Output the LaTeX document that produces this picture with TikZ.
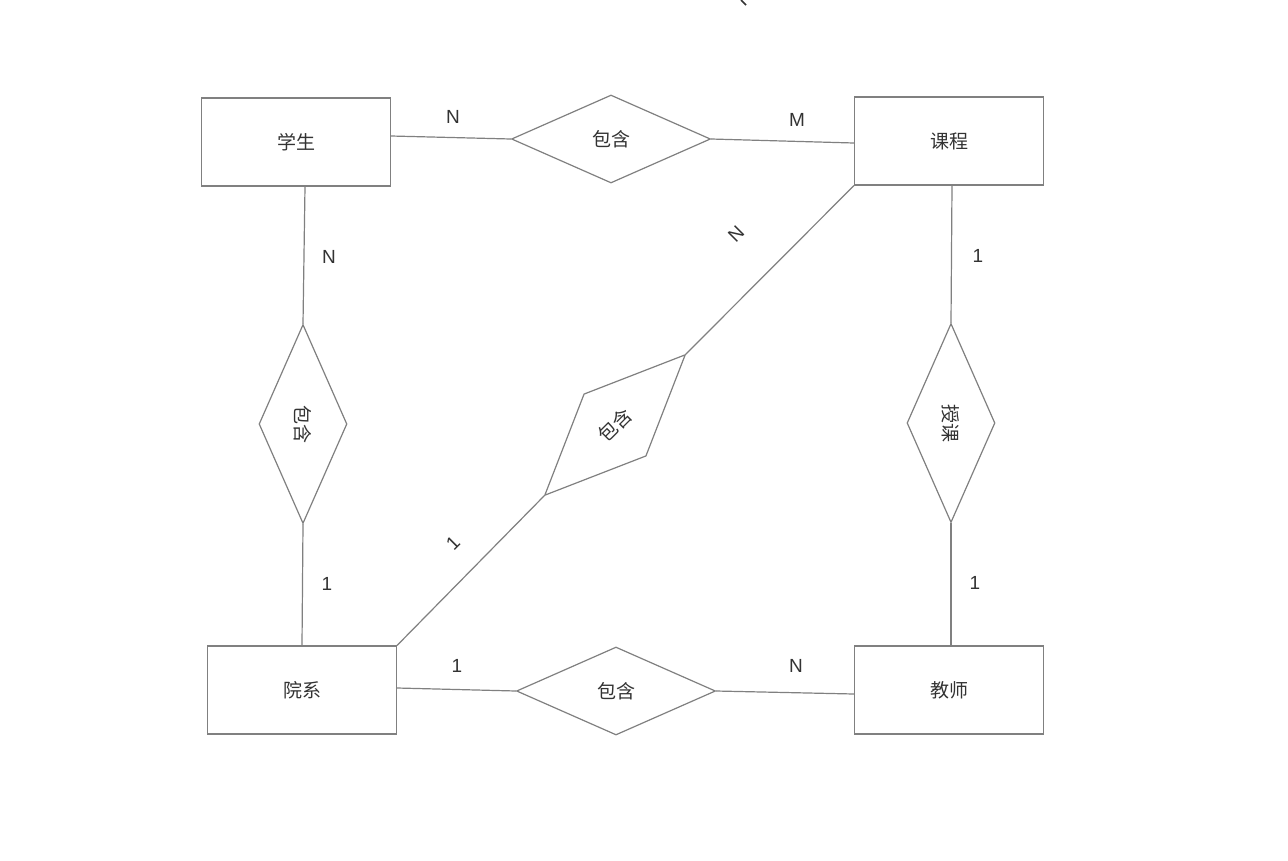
\documentclass[tikz,border=0pt]{standalone}
\usepackage{fontspec}
\setmainfont{Liberation Sans}
\newfontfamily\cjk{Noto Sans CJK SC}
\usetikzlibrary{shapes.geometric}
\definecolor{linegray}{RGB}{128,128,128}
\definecolor{txt}{RGB}{51,51,51}
\begin{document}
\begin{tikzpicture}[x=1pt,y=-1pt,line width=1.2pt,
  ent/.style={draw=linegray, rectangle, minimum width=189pt, minimum height=88pt, inner sep=0pt, font=\cjk\fontsize{19}{22}\selectfont, text=txt},
  rel/.style={draw=linegray, diamond, minimum width=199pt, minimum height=88pt, inner sep=0pt, font=\cjk\fontsize{19}{22}\selectfont, text=txt},
  lbl/.style={font=\fontsize{19}{22}\selectfont, text=txt, inner sep=0pt},
  conn/.style={draw=linegray, line width=1.2pt}]
\useasboundingbox (0,0) rectangle (1288,860);
\fill[white] (0,0) rectangle (1288,860);
% entities
\node[ent] (s) at (296,142) {学生};
\node[ent] (c) at (949,141) {课程};
\node[ent] (y) at (302,690) {院系};
\node[ent] (t) at (949,690) {教师};
% relationships
\node[rel] (r1) at (611,139) {包含};
\node[rel] (r4) at (616,691) {包含};
\node[rel, rotate=-90] (r2) at (303,424) {包含};
\node[rel, rotate=-90] (r3) at (951,423) {授课};
\node[rel, rotate=45] (r5) at (615,425) {包含};
% connectors
\draw[conn] ([yshift=6pt]s.east) -- (r1.west);
\draw[conn] (r1.east) -- ([yshift=-2pt]c.west);
\draw[conn] ([xshift=9pt]s.south) -- (r2.west);
\draw[conn] (r2.east) -- (y.north);
\draw[conn] ([xshift=3pt]c.south) -- (r3.west);
\draw[conn] (r3.east) -- ([xshift=2pt]t.north);
\draw[conn] ([yshift=2pt]y.east) -- (r4.west);
\draw[conn] (r4.east) -- ([yshift=-4pt]t.west);
\draw[conn] (c.south west) -- (r5.east);
\draw[conn] (r5.west) -- (y.north east);
% cardinality labels
\node[lbl] (l1) at (453,117) {N};
\node[lbl] (l2) at (797,120) {M};
\node[lbl] (l3) at (329,257) {N};
\node[lbl] (l4) at (327,584) {1};
\node[lbl] (l5) at (978,256) {1};
\node[lbl] (l6) at (975,583) {1};
\node[lbl] (l7) at (457,666) {1};
\node[lbl] (l8) at (796,666) {N};
\node[lbl, rotate=45] (l9) at (736,234) {N};
\node[lbl, rotate=45] (l10) at (453,543) {1};
% clipped fragment at the top edge
\draw[txt, line width=1.5pt] (741,0) -- (746,5);
\end{tikzpicture}
\end{document}
